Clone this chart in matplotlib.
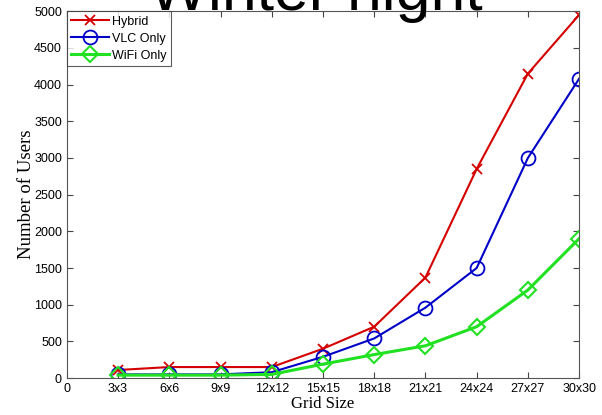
import matplotlib

matplotlib.use("Agg")
import matplotlib.pyplot as plt

# grid sizes (n x n), x positions are n
grid_n = [3, 6, 9, 12, 15, 18, 21, 24, 27, 30]
hybrid = [110, 150, 150, 150, 400, 700, 1370, 2850, 4150, 4950]
vlc_only = [50, 50, 50, 80, 290, 540, 960, 1500, 3000, 4080]
wifi_only = [40, 40, 40, 50, 190, 320, 440, 700, 1200, 1900]

x_ticks = [0] + grid_n
x_labels = ["0"] + [f"{n}x{n}" for n in grid_n]
y_ticks = list(range(0, 5001, 500))

fig = plt.figure(figsize=(6.02, 4.15), dpi=100)
ax = fig.add_axes([0.111, 0.089, 0.851, 0.884])

ax.plot(grid_n, hybrid, color="#d40000", marker="x", ms=7.5, mew=1.3, lw=1.5,
        label="Hybrid")
ax.plot(grid_n, vlc_only, color="#0000c8", marker="o", ms=10, mfc="none",
        mew=1.3, lw=1.5, label="VLC Only")
ax.plot(grid_n, wifi_only, color="#22e022", marker="D", ms=8, mfc="none",
        mew=1.5, lw=2.2, label="WiFi Only")

ax.set_xlim(0, 30)
ax.set_ylim(0, 5000)
ax.set_xticks(x_ticks)
ax.set_xticklabels(x_labels)
ax.set_yticks(y_ticks)
ax.tick_params(direction="in", top=True, right=True, length=4, width=0.8,
               labelsize=9, colors="#444444", labelcolor="black")
for lbl in ax.get_xticklabels() + ax.get_yticklabels():
    lbl.set_family("Liberation Sans")
for sp in ax.spines.values():
    sp.set_color("#555555")

ax.set_xlabel("Grid Size", family="Liberation Serif", fontsize=12, labelpad=1)
ax.set_ylabel("Number of Users", family="Liberation Serif", fontsize=13.5,
              labelpad=-1)

leg = ax.legend(loc="upper left", fancybox=False, edgecolor="#333333",
                prop={"family": "Liberation Sans", "size": 9},
                borderaxespad=0, handlelength=3.0, borderpad=0.35,
                labelspacing=0.4, handletextpad=0.3)
leg.get_frame().set_linewidth(0.8)

fig.text(0.525, 0.975, "Winter night", ha="center", va="baseline",
         fontsize=45, family="Liberation Sans")

fig.savefig("out.png", dpi=100)
